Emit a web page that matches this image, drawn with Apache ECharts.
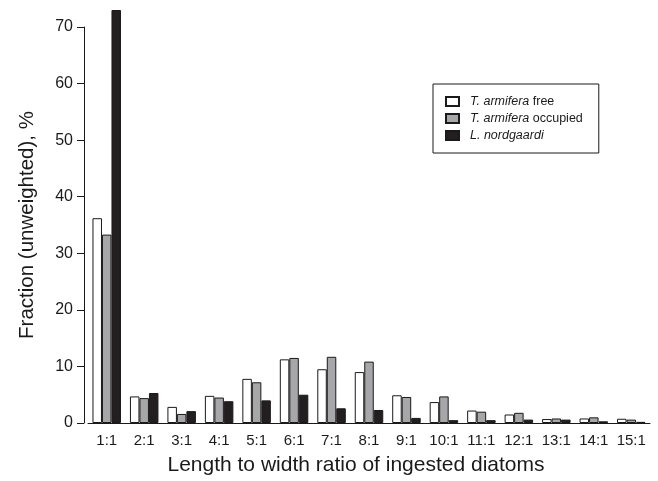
<!DOCTYPE html>
<html>
<head>
<meta charset="utf-8">
<script src="https://cdn.jsdelivr.net/npm/echarts@6/dist/echarts.min.js"></script>
<style>html,body{margin:0;padding:0;background:#fff;}#c{width:658px;height:481px;}</style>
</head>
<body>
<div id="c"></div>
<script>
var categories = ['1:1','2:1','3:1','4:1','5:1','6:1','7:1','8:1','9:1','10:1','11:1','12:1','13:1','14:1','15:1'];
var armiferaFree = [36.2, 4.7, 2.85, 4.8, 7.8, 11.25, 9.5, 9.0, 4.9, 3.7, 2.2, 1.5, 0.7, 0.8, 0.75];
var armiferaOccupied = [33.3, 4.4, 1.6, 4.5, 7.2, 11.5, 11.7, 10.85, 4.6, 4.7, 2.0, 1.8, 0.8, 1.0, 0.6];
var nordgaardi = [73.0, 5.3, 2.1, 3.85, 4.0, 5.0, 2.6, 2.3, 0.9, 0.5, 0.5, 0.6, 0.6, 0.3, 0.2];
var yTicks = [0, 10, 20, 30, 40, 50, 60, 70];

var FONT = '"Liberation Sans", Arial, Helvetica, sans-serif';
var chart = echarts.init(document.getElementById('c'), null, {renderer: 'canvas'});
function mk(name, data, fill) {
  return {
    name: name, type: 'bar', data: data, barWidth: 9.5, barGap: '0%', clip: false,
    itemStyle: {color: fill, borderColor: '#1a1a1a', borderWidth: 1},
    emphasis: {disabled: true}
  };
}
chart.setOption({
  animation: false,
  backgroundColor: '#fff',
  grid: {left: 88, right: 8, top: 27, bottom: 54, containLabel: false},
  legend: {
    orient: 'vertical', left: 433, top: 84,
    padding: [11, 16, 11, 12], itemGap: 4, itemWidth: 13, itemHeight: 9,
    borderColor: '#1a1a1a', borderWidth: 1, borderRadius: 0,
    icon: 'rect',
    textStyle: {fontFamily: FONT, fontSize: 12.5, color: '#1a1a1a', padding: [0, 0, 0, 6],
      rich: {it: {fontStyle: 'italic', fontFamily: FONT, fontSize: 12.5, color: '#1a1a1a'}}},
    formatter: function (n) {
      if (n === 'T. armifera free') return '{it|T. armifera} free';
      if (n === 'T. armifera occupied') return '{it|T. armifera} occupied';
      return '{it|' + n + '}';
    },
    data: ['T. armifera free', 'T. armifera occupied', 'L. nordgaardi']
  },
  xAxis: {
    type: 'category', data: categories,
    axisLine: {lineStyle: {color: '#1a1a1a', width: 1}},
    axisTick: {alignWithLabel: true, length: 5, lineStyle: {color: '#1a1a1a'}},
    axisLabel: {interval: 0, fontFamily: FONT, fontSize: 15, color: '#1a1a1a', margin: 10},
    name: 'Length to width ratio of ingested diatoms',
    nameLocation: 'middle', nameGap: 32,
    nameTextStyle: {fontFamily: FONT, fontSize: 21, color: '#1a1a1a', padding: [0, 26, 0, 0]}
  },
  yAxis: {
    type: 'value', min: 0, max: 70, interval: 10, offset: 4,
    axisLine: {show: true, lineStyle: {color: '#1a1a1a', width: 1}},
    axisTick: {show: true, length: 7, lineStyle: {color: '#1a1a1a'}},
    splitLine: {show: false},
    axisLabel: {fontFamily: FONT, fontSize: 16, color: '#1a1a1a', margin: 11,
      formatter: function (v) { return yTicks.indexOf(v) >= 0 ? String(v) : ''; }},
    name: 'Fraction (unweighted), %',
    nameLocation: 'middle', nameGap: 46,
    nameTextStyle: {fontFamily: FONT, fontSize: 20.5, color: '#1a1a1a'}
  },
  series: [
    mk('T. armifera free', armiferaFree, '#ffffff'),
    mk('T. armifera occupied', armiferaOccupied, '#a7a7a9'),
    mk('L. nordgaardi', nordgaardi, '#231f20')
  ]
});
</script>
</body>
</html>
